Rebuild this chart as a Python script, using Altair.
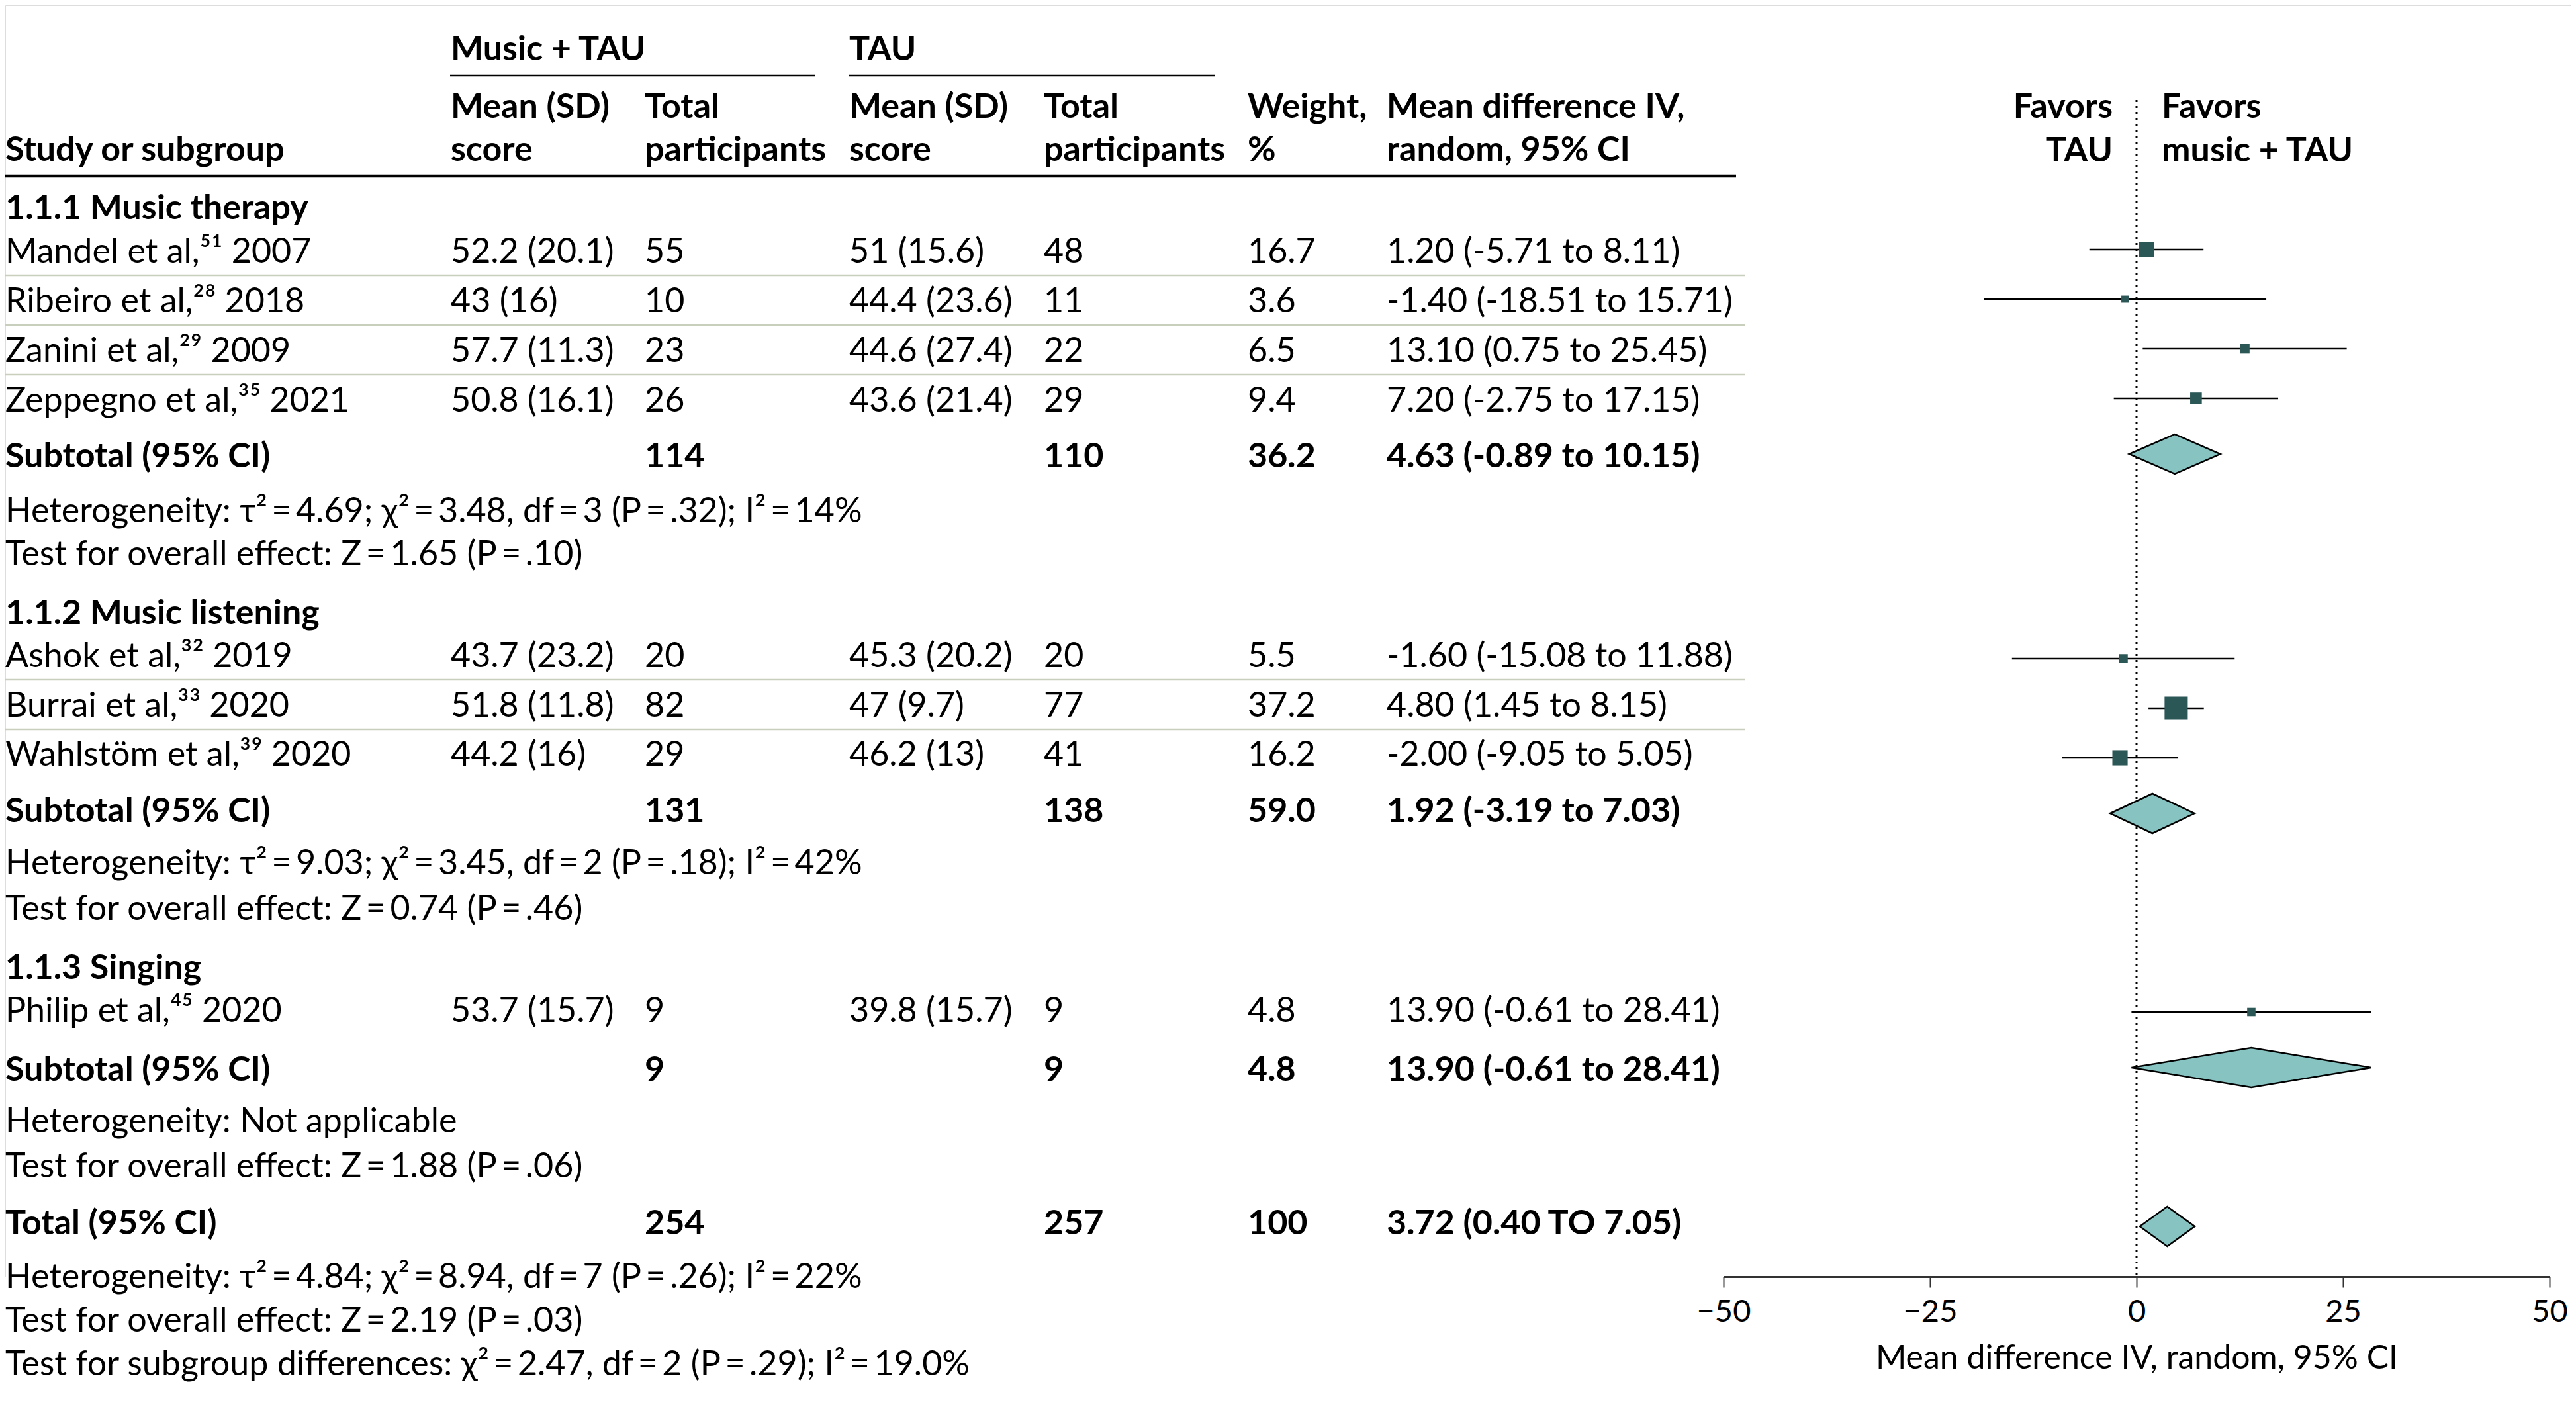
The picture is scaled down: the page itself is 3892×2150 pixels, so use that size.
import altair as alt
import pandas as pd

# ------------------------------------------------------------------ data
study_labels = ["Mandel et al,\u2075\u00b9 2007", "Ribeiro et al,\u00b2\u2078 2018",
                "Zanini et al,\u00b2\u2079 2009", "Zeppegno et al,\u00b3\u2075 2021",
                "Ashok et al,\u00b3\u00b2 2019", "Burrai et al,\u00b3\u00b3 2020",
                "Wahlst\u00f6m et al,\u00b3\u2079 2020", "Philip et al,\u2074\u2075 2020"]
music_mean_sd = ["52.2 (20.1)", "43 (16)", "57.7 (11.3)", "50.8 (16.1)",
                 "43.7 (23.2)", "51.8 (11.8)", "44.2 (16)", "53.7 (15.7)"]
music_total = [55, 10, 23, 26, 20, 82, 29, 9]
tau_mean_sd = ["51 (15.6)", "44.4 (23.6)", "44.6 (27.4)", "43.6 (21.4)",
               "45.3 (20.2)", "47 (9.7)", "46.2 (13)", "39.8 (15.7)"]
tau_total = [48, 11, 22, 29, 20, 77, 41, 9]
weight_pct = [16.7, 3.6, 6.5, 9.4, 5.5, 37.2, 16.2, 4.8]
mean_diff = [1.20, -1.40, 13.10, 7.20, -1.60, 4.80, -2.00, 13.90]
ci_low = [-5.71, -18.51, 0.75, -2.75, -15.08, 1.45, -9.05, -0.61]
ci_high = [8.11, 15.71, 25.45, 17.15, 11.88, 8.15, 5.05, 28.41]
md_labels = ["1.20 (-5.71 to 8.11)", "-1.40 (-18.51 to  15.71)", "13.10 (0.75 to 25.45)",
             "7.20 (-2.75 to 17.15)", "-1.60 (-15.08 to  11.88)", "4.80 (1.45 to  8.15)",
             "-2.00 (-9.05 to 5.05)", "13.90 (-0.61 to 28.41)"]

group_titles = ["1.1.1 Music therapy", "1.1.2 Music listening", "1.1.3 Singing"]
sub_music_total = [114, 131, 9]
sub_tau_total = [110, 138, 9]
sub_weight = ["36.2", "59.0", "4.8"]
sub_md = [4.63, 1.92, 13.90]
sub_low = [-0.89, -3.19, -0.61]
sub_high = [10.15, 7.03, 28.41]
sub_md_labels = ["4.63 (-0.89 to  10.15)", "1.92 (-3.19 to 7.03)", "13.90 (-0.61 to 28.41)"]
EQ = "\u2009=\u2009"
sub_het = [f"Heterogeneity: \u03c4\u00b2{EQ}4.69; \u03c7\u00b2{EQ}3.48, df{EQ}3 (P{EQ}.32); I\u00b2{EQ}14%",
           f"Heterogeneity: \u03c4\u00b2{EQ}9.03; \u03c7\u00b2{EQ}3.45, df{EQ}2 (P{EQ}.18); I\u00b2{EQ}42%",
           "Heterogeneity: Not applicable"]
sub_test = [f"Test for overall effect: Z{EQ}1.65 (P{EQ}.10)",
            f"Test for overall effect: Z{EQ}0.74 (P{EQ}.46)",
            f"Test for overall effect: Z{EQ}1.88 (P{EQ}.06)"]

total_music = 254
total_tau = 257
total_weight = "100"
total_md, total_low, total_high = 3.72, 0.40, 7.05
total_md_label = "3.72 (0.40 TO 7.05)"
footer_lines = [f"Heterogeneity: \u03c4\u00b2{EQ}4.84; \u03c7\u00b2{EQ}8.94, df{EQ}7 (P{EQ}.26); I\u00b2{EQ}22%",
                f"Test for overall effect: Z{EQ}2.19 (P{EQ}.03)",
                f"Test for subgroup differences: \u03c7\u00b2{EQ}2.47, df{EQ}2 (P{EQ}.29); I\u00b2{EQ}19.0%"]

axis_ticks = [-50, -25, 0, 25, 50]

# ------------------------------------------------------------------ layout (pixels)
FONT = "Lato"
FS = 52
W, H = 3876, 1921
COLS = dict(study=0, mmean=673, mtot=966, tmean=1275, ttot=1569, wt=1877, md=2087)
X_RANGE = [2596, 3844]

study_group = [0, 0, 0, 0, 1, 1, 1, 2]
study_base = [389, 464, 539, 614, 1000, 1075, 1149, 1536]
study_mark = [369, 444, 519, 594, 987, 1062, 1137, 1521]
group_base = [323, 935, 1471]
sub_base = [698, 1234, 1625]
sub_mark = [678, 1221, 1605]
het_base = [781, 1313, 1703]
test_base = [846, 1382, 1771]
total_base, total_mark = 1857, 1845
footer_base = [1938, 2004, 2070]
DIA_H = 30

# ------------------------------------------------------------------ text tables
regular, bold, bold_right = [], [], []
hdr1, hdr2, hdr3 = 83, 170, 235
bold += [dict(x=COLS["mmean"], y=hdr1, t="Music + TAU"), dict(x=COLS["tmean"], y=hdr1, t="TAU"),
         dict(x=COLS["mmean"], y=hdr2, t="Mean (SD)"), dict(x=COLS["mtot"], y=hdr2, t="Total"),
         dict(x=COLS["tmean"], y=hdr2, t="Mean (SD)"), dict(x=COLS["ttot"], y=hdr2, t="Total"),
         dict(x=COLS["wt"], y=hdr2, t="Weight,"), dict(x=COLS["md"], y=hdr2, t="Mean difference IV,"),
         dict(x=COLS["study"], y=hdr3, t="Study or subgroup"), dict(x=COLS["mmean"], y=hdr3, t="score"),
         dict(x=COLS["mtot"], y=hdr3, t="participants"), dict(x=COLS["tmean"], y=hdr3, t="score"),
         dict(x=COLS["ttot"], y=hdr3, t="participants"), dict(x=COLS["wt"], y=hdr3, t="%"),
         dict(x=COLS["md"], y=hdr3, t="random, 95% CI"),
         dict(x=3258, y=hdr2, t="Favors"), dict(x=3258, y=hdr3 + 1, t="music + TAU")]
bold_right += [dict(x=3184, y=hdr2, t="Favors"), dict(x=3184, y=hdr3 + 1, t="TAU")]

for i in range(len(study_labels)):
    yb = study_base[i]
    regular += [dict(x=COLS["study"], y=yb, t=study_labels[i]),
                dict(x=COLS["mmean"], y=yb, t=music_mean_sd[i]),
                dict(x=COLS["mtot"], y=yb, t=str(music_total[i])),
                dict(x=COLS["tmean"], y=yb, t=tau_mean_sd[i]),
                dict(x=COLS["ttot"], y=yb, t=str(tau_total[i])),
                dict(x=COLS["wt"], y=yb, t=f"{weight_pct[i]:.1f}"),
                dict(x=COLS["md"], y=yb, t=md_labels[i])]
for g in range(3):
    bold.append(dict(x=COLS["study"], y=group_base[g], t=group_titles[g]))
    yb = sub_base[g]
    bold += [dict(x=COLS["study"], y=yb, t="Subtotal (95% CI)"),
             dict(x=COLS["mtot"], y=yb, t=str(sub_music_total[g])),
             dict(x=COLS["ttot"], y=yb, t=str(sub_tau_total[g])),
             dict(x=COLS["wt"], y=yb, t=sub_weight[g]),
             dict(x=COLS["md"], y=yb, t=sub_md_labels[g])]
    regular += [dict(x=COLS["study"], y=het_base[g], t=sub_het[g]),
                dict(x=COLS["study"], y=test_base[g], t=sub_test[g])]
bold += [dict(x=COLS["study"], y=total_base, t="Total (95% CI)"),
         dict(x=COLS["mtot"], y=total_base, t=str(total_music)),
         dict(x=COLS["ttot"], y=total_base, t=str(total_tau)),
         dict(x=COLS["wt"], y=total_base, t=total_weight),
         dict(x=COLS["md"], y=total_base, t=total_md_label)]
for k, line in enumerate(footer_lines):
    regular.append(dict(x=COLS["study"], y=footer_base[k], t=line))

# ------------------------------------------------------------------ table rules
SEP = "#c9cfbd"
rules = [dict(x=672, x2=1223, y=106, c="black", sw=2.5),
         dict(x=1275, x2=1828, y=106, c="black", sw=2.5),
         dict(x=0, x2=2615, y=258, c="black", sw=4.5)]
for i in range(len(study_labels) - 1):
    if study_group[i] == study_group[i + 1]:
        rules.append(dict(x=0, x2=2628, y=study_base[i] + 19, c=SEP, sw=2.5))

# ------------------------------------------------------------------ forest data
ci_df = pd.DataFrame(dict(md=mean_diff, lo=ci_low, hi=ci_high, y=study_mark, w=weight_pct))
dia_rows = []
summ = list(zip(sub_md, sub_low, sub_high, sub_mark)) + [(total_md, total_low, total_high, total_mark)]
for k, (m, lo, hi, yc) in enumerate(summ):
    dia_rows += [dict(id=k, x=lo, y1=yc, y2=yc), dict(id=k, x=m, y1=yc - DIA_H, y2=yc + DIA_H),
                 dict(id=k, x=hi, y1=yc, y2=yc)]
dia_df = pd.DataFrame(dia_rows)
zero_df = pd.DataFrame(dict(x=[0], y=[143], y2=[H]))

xscale = alt.Scale(domain=[-50, 50], range=X_RANGE)
ypix = alt.Y("y:Q", scale=None, axis=None)

lines = alt.Chart(pd.DataFrame(rules)).mark_rule().encode(
    x=alt.X("x:Q", scale=None, axis=None), x2="x2:Q", y=ypix,
    color=alt.Color("c:N", scale=None), strokeWidth=alt.StrokeWidth("sw:Q", scale=None))


def text_layer(rows, weight, align):
    return alt.Chart(pd.DataFrame(rows)).mark_text(
        align=align, baseline="alphabetic", font=FONT, fontSize=FS, fontWeight=weight, color="black"
    ).encode(x=alt.X("x:Q", scale=None, axis=None), y=ypix, text="t:N")


zero = alt.Chart(zero_df).mark_rule(color="black", strokeWidth=3, strokeDash=[3, 6]).encode(
    x=alt.X("x:Q", scale=xscale, axis=None), y=ypix, y2="y2:Q")

ci = alt.Chart(ci_df).mark_rule(color="black", strokeWidth=2.5).encode(
    x=alt.X("lo:Q", scale=xscale,
            axis=alt.Axis(values=axis_ticks, title="Mean difference IV, random, 95% CI", grid=False,
                          domainColor="#333333", domainWidth=3, tickColor="#333333", tickWidth=2,
                          tickSize=16, labelFont=FONT, labelFontSize=47, labelColor="black",
                          labelPadding=14, titleFont=FONT, titleFontSize=50, titleFontWeight="normal",
                          titleColor="black", titlePadding=22, labelFlush=False)),
    x2="hi:Q", y=ypix)

squares = alt.Chart(ci_df).mark_square(color="#2b5756", opacity=1).encode(
    x=alt.X("md:Q", scale=xscale, axis=None), y=ypix,
    size=alt.Size("w:Q", scale=alt.Scale(domain=[0, 40], range=[0, 1320]), legend=None))

diamonds = alt.Chart(dia_df).mark_area(
    fill="#86c3c1", stroke="black", strokeWidth=2.5, orient="vertical", opacity=1
).encode(x=alt.X("x:Q", scale=xscale, axis=None), y=alt.Y("y1:Q", scale=None, axis=None), y2="y2:Q",
         detail="id:N")

chart = alt.layer(
    lines, zero, ci, squares, diamonds,
    text_layer(regular, "normal", "left"), text_layer(bold, "bold", "left"),
    text_layer(bold_right, "bold", "right"),
).resolve_scale(x="independent").properties(
    width=W, height=H, padding={"left": 0, "top": 0, "right": 0, "bottom": 213},
    autosize=alt.AutoSizeParams(type="none"),
).configure_view(stroke=None).configure(background="white")

chart.save("out.html", embed_options={"renderer": "svg", "actions": False})
